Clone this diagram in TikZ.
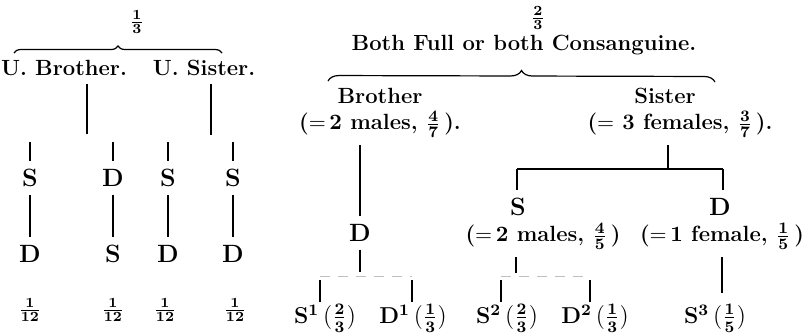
\documentclass[tikz,border=0pt]{standalone}
\usepackage{tikz}
\usetikzlibrary{decorations.pathreplacing}
\tikzset{
  word/.style={font=\fontsize{11}{13}\selectfont\bfseries, inner sep=1pt, outer sep=3pt},
  kin/.style={font=\fontsize{12.5}{14}\selectfont\bfseries, inner sep=1pt, outer sep=3pt},
  share/.style={font=\fontsize{10}{12}\selectfont\bfseries, inner sep=1pt},
  heir/.style={font=\fontsize{11.5}{13}\selectfont\bfseries, inner sep=1pt},
  ln/.style={line width=0.6pt},
  dl/.style={line width=0.4pt, draw=black!25, dash pattern=on 5pt off 4pt},
  brc/.style={decorate, decoration={brace, amplitude=#1}, line width=0.6pt},
}
\newcommand{\bfr}[2]{$\frac{\mathbf{#1}}{\mathbf{#2}}$}

\begin{document}
\begin{tikzpicture}[x=0.5pt, y=-0.5pt]
  \useasboundingbox (0,0) rectangle (807,334);

  % uterine side
  \node[share] (third) at (137,22) {\bfr13};
  \coordinate (bl1) at (14,53);
  \coordinate (br1) at (222,53);
  \draw[brc=3.5pt] (bl1) -- (br1);
  \node[word] (ub) at (64,68) {U. Brother.};
  \node[word] (us) at (204,68) {U. Sister.};
  \coordinate (ubk) at (87,134);
  \coordinate (usk) at (211,135);
  \draw[ln] (ub.south -| ubk) -- (ubk);
  \draw[ln] (us.south -| usk) -- (usk);

  \node[kin] (a1) at (30,178) {S};
  \node[kin] (a2) at (113,178) {D};
  \node[kin] (a3) at (168,178) {S};
  \node[kin] (a4) at (233,178) {S};
  \node[kin] (b1) at (30,254) {D};
  \node[kin] (b2) at (113,254) {S};
  \node[kin] (b3) at (168,254) {D};
  \node[kin] (b4) at (233,254) {D};
  \foreach \i/\x in {1/30,2/113,3/168,4/233}{
    \coordinate (t\i) at (\x,142);
    \draw[ln] (t\i) -- (a\i);
    \draw[ln] (a\i) -- (b\i);
  }
  \node[share] (f1) at (30,310) {\bfr1{12}};
  \node[share] (f2) at (113,310) {\bfr1{12}};
  \node[share] (f3) at (165,310) {\bfr1{12}};
  \node[share] (f4) at (235,310) {\bfr1{12}};

  % full or consanguine side
  \node[share] (twothird) at (538,18) {\bfr23};
  \node[word] (both) at (524,45) {Both Full or both Consanguine.};
  \coordinate (bl2) at (328,81);
  \coordinate (br2) at (715,82);
  \draw[brc=5.5pt] (bl2) -- (br2);

  \node[word] (bro) at (380,96) {Brother};
  \node[word] (bro2) at (380,124) {(${=}\,\mathbf{2}$ males, \bfr47\,).};
  \node[word] (sis) at (665,96) {Sister};
  \node[word] (sis2) at (680,124) {(${=}$ 3 females, \bfr37\,).};

  % brother's line
  \node[kin] (dd) at (360,233) {D};
  \draw[ln] (bro2.south -| dd) -- (dd);
  \coordinate (dk) at (360,272);
  \draw[ln] (dd) -- (dk);
  \coordinate (dbl) at (320,276);
  \coordinate (dbr) at (412,276);
  \draw[dl] (dbl) -- (dbr);
  \node[heir] (s1) at (325,318) {S$^{\mathbf1}$\,$(\frac{\mathbf2}{\mathbf3})$};
  \node[heir] (d1) at (413,318) {D$^{\mathbf1}$\,$(\frac{\mathbf1}{\mathbf3})$};
  \coordinate (s1k) at (320,280);
  \coordinate (d1k) at (412,280);
  \draw[ln] (s1k) -- (s1k |- s1.north);
  \draw[ln] (d1k) -- (d1k |- d1.north);

  % sister's line
  \coordinate (sj) at (668,169);
  \coordinate (barl) at (517,169);
  \coordinate (barr) at (723,169);
  \draw[ln] (sis2.south -| sj) -- (sj);
  \draw[ln] (barl) -- (barr);
  \node[kin] (ss) at (518,207) {S};
  \node[kin] (sd) at (720,207) {D};
  \draw[ln] (barl) -- (barl |- ss.north);
  \draw[ln] (barr) -- (barr |- sd.north);
  \node[word] (ss2) at (543,236) {(${=}\,\mathbf{2}$ males, \bfr45\,)};
  \node[word] (sd2) at (722,236) {(${=}\,\mathbf{1}$ female, \bfr15\,)};

  \coordinate (ssk) at (516,273);
  \draw[ln] (ss2.south -| ssk) -- (ssk);
  \coordinate (sbl) at (501,276);
  \coordinate (sbr) at (590,276);
  \draw[dl] (sbl) -- (sbr);
  \node[heir] (s2) at (507,318) {S$^{\mathbf2}$\,$(\frac{\mathbf2}{\mathbf3})$};
  \node[heir] (d2) at (595,318) {D$^{\mathbf2}$\,$(\frac{\mathbf1}{\mathbf3})$};
  \coordinate (s2k) at (501,280);
  \coordinate (d2k) at (590,280);
  \draw[ln] (s2k) -- (s2k |- s2.north);
  \draw[ln] (d2k) -- (d2k |- d2.north);

  \node[heir] (s3) at (715,318) {S$^{\mathbf3}$\,$(\frac{\mathbf1}{\mathbf5})$};
  \coordinate (s3k) at (722,293);
  \draw[ln] (sd2.south -| s3k) -- (s3k);
\end{tikzpicture}
\end{document}
